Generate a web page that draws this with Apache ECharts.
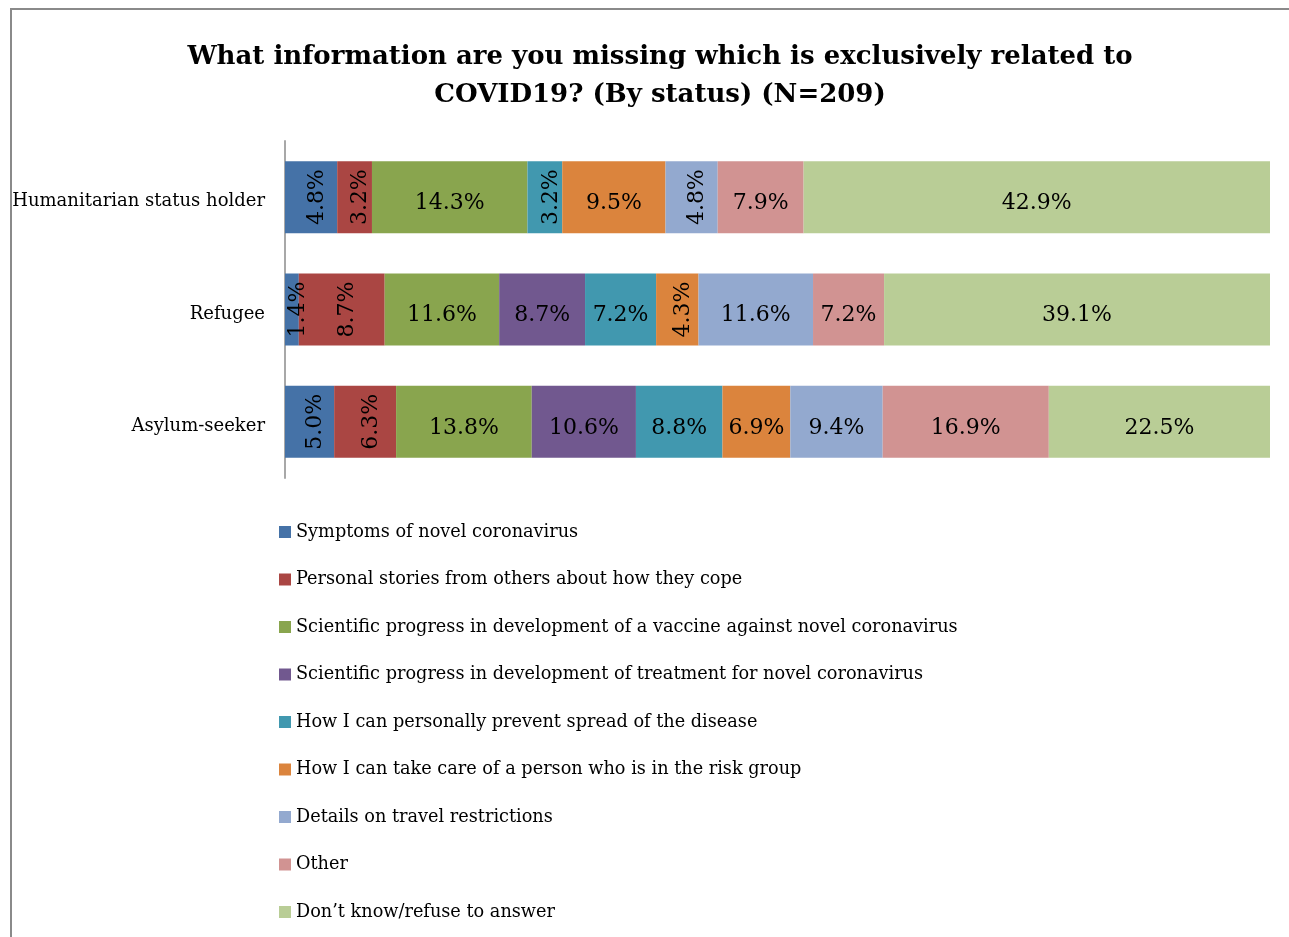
<!DOCTYPE html>
<html>
<head>
<meta charset="utf-8">
<title>COVID19 information needs by status</title>
<script src="https://cdn.jsdelivr.net/npm/echarts@6/dist/echarts.min.js"></script>
<style>
  html, body { margin: 0; padding: 0; background: #fff; }
  #chart { width: 1289px; height: 937px; }
</style>
</head>
<body>
<div id="chart"></div>
<script>
// Respondent groups, top to bottom
const statuses = ['Humanitarian status holder', 'Refugee', 'Asylum-seeker'];

// Answer options (legend order = stacking order)
const answers = [
  'Symptoms of novel coronavirus',
  'Personal stories from others about how they cope',
  'Scientific progress in development of a vaccine against novel coronavirus',
  'Scientific progress in development of treatment for novel coronavirus',
  'How I can personally prevent spread of the disease',
  'How I can take care of a person who is in the risk group',
  'Details on travel restrictions',
  'Other',
  'Don\u2019t know/refuse to answer'
];

// Share of each group (%) per answer, in the order of `statuses`
const symptoms        = [4.8, 1.4, 5.0];
const personalStories = [3.2, 8.7, 6.3];
const vaccineProgress = [14.3, 11.6, 13.8];
const treatmentProgress = [0, 8.7, 10.6];
const preventSpread   = [3.2, 7.2, 8.8];
const riskGroupCare   = [9.5, 4.3, 6.9];
const travelRestrictions = [4.8, 11.6, 9.4];
const other           = [7.9, 7.2, 16.9];
const dontKnow        = [42.9, 39.1, 22.5];

const answerValues = [
  symptoms, personalStories, vaccineProgress, treatmentProgress,
  preventSpread, riskGroupCare, travelRestrictions, other, dontKnow
];

const colors = [
  '#4572A7', '#AA4643', '#89A54E', '#71588F', '#4198AF',
  '#DB843D', '#93A9CF', '#D19392', '#B9CD96'
];

// Segments whose value labels are set vertically: [answer index, status index]
const verticalLabels = [[0, 0], [1, 0], [4, 0], [6, 0], [0, 1], [1, 1], [5, 1], [0, 2], [1, 2]];

const serif = '"DejaVu Serif", "Liberation Serif", serif';

// Each bar fills the full width: segment = value / row total
const rowTotals = statuses.map((_, c) => answerValues.reduce((s, arr) => s + arr[c], 0));

const series = answers.map((name, a) => ({
  name: name,
  type: 'bar',
  stack: 'all',
  barWidth: 72,
  itemStyle: { color: colors[a] },
  data: answerValues[a].map((v, c) => {
    const vertical = verticalLabels.some(p => p[0] === a && p[1] === c);
    return {
      value: v / rowTotals[c] * 100,
      pct: v,
      label: vertical ? { rotate: 90 } : {}
    };
  }),
  label: {
    show: true,
    position: 'inside',
    color: '#000',
    fontFamily: serif,
    fontSize: 22,
    offset: [0, 6],
    formatter: p => (p.data.pct > 0 ? p.data.pct.toFixed(1) + '%' : '')
  }
}));

const chart = echarts.init(document.getElementById('chart'));
chart.setOption({
  animation: false,
  color: colors,
  title: {
    text: 'What information are you missing which is exclusively related to\nCOVID19? (By status) (N=209)',
    left: 655,
    top: 33,
    textAlign: 'center',
    textStyle: {
      fontFamily: serif,
      fontSize: 26,
      fontWeight: 'bold',
      color: '#000',
      lineHeight: 38
    }
  },
  graphic: [{
    type: 'polyline',
    shape: { points: [[11, 937], [11, 9], [1289, 9]] },
    style: { stroke: '#8a8a8a', lineWidth: 2, fill: null }
  }],
  grid: { left: 285, right: 19, top: 141, bottom: 459 },
  xAxis: {
    type: 'value',
    min: 0,
    max: 100,
    show: false
  },
  yAxis: {
    type: 'category',
    data: statuses,
    inverse: true,
    axisLine: { show: true, lineStyle: { color: '#a8a8a8', width: 2 } },
    axisTick: { show: false },
    axisLabel: {
      color: '#000',
      fontFamily: serif,
      fontSize: 18,
      margin: 20,
      formatter: v => '{cat|' + v + '}',
      rich: { cat: { color: '#000', fontFamily: serif, fontSize: 18, padding: [9, 0, 0, 0] } }
    }
  },
  legend: {
    orient: 'vertical',
    left: 279,
    top: 523,
    padding: 0,
    itemWidth: 12,
    itemHeight: 12,
    itemGap: 29.5,
    icon: 'rect',
    textStyle: { color: '#000', fontFamily: serif, fontSize: 17.7 },
    data: answers
  },
  series: series
});
</script>
</body>
</html>
